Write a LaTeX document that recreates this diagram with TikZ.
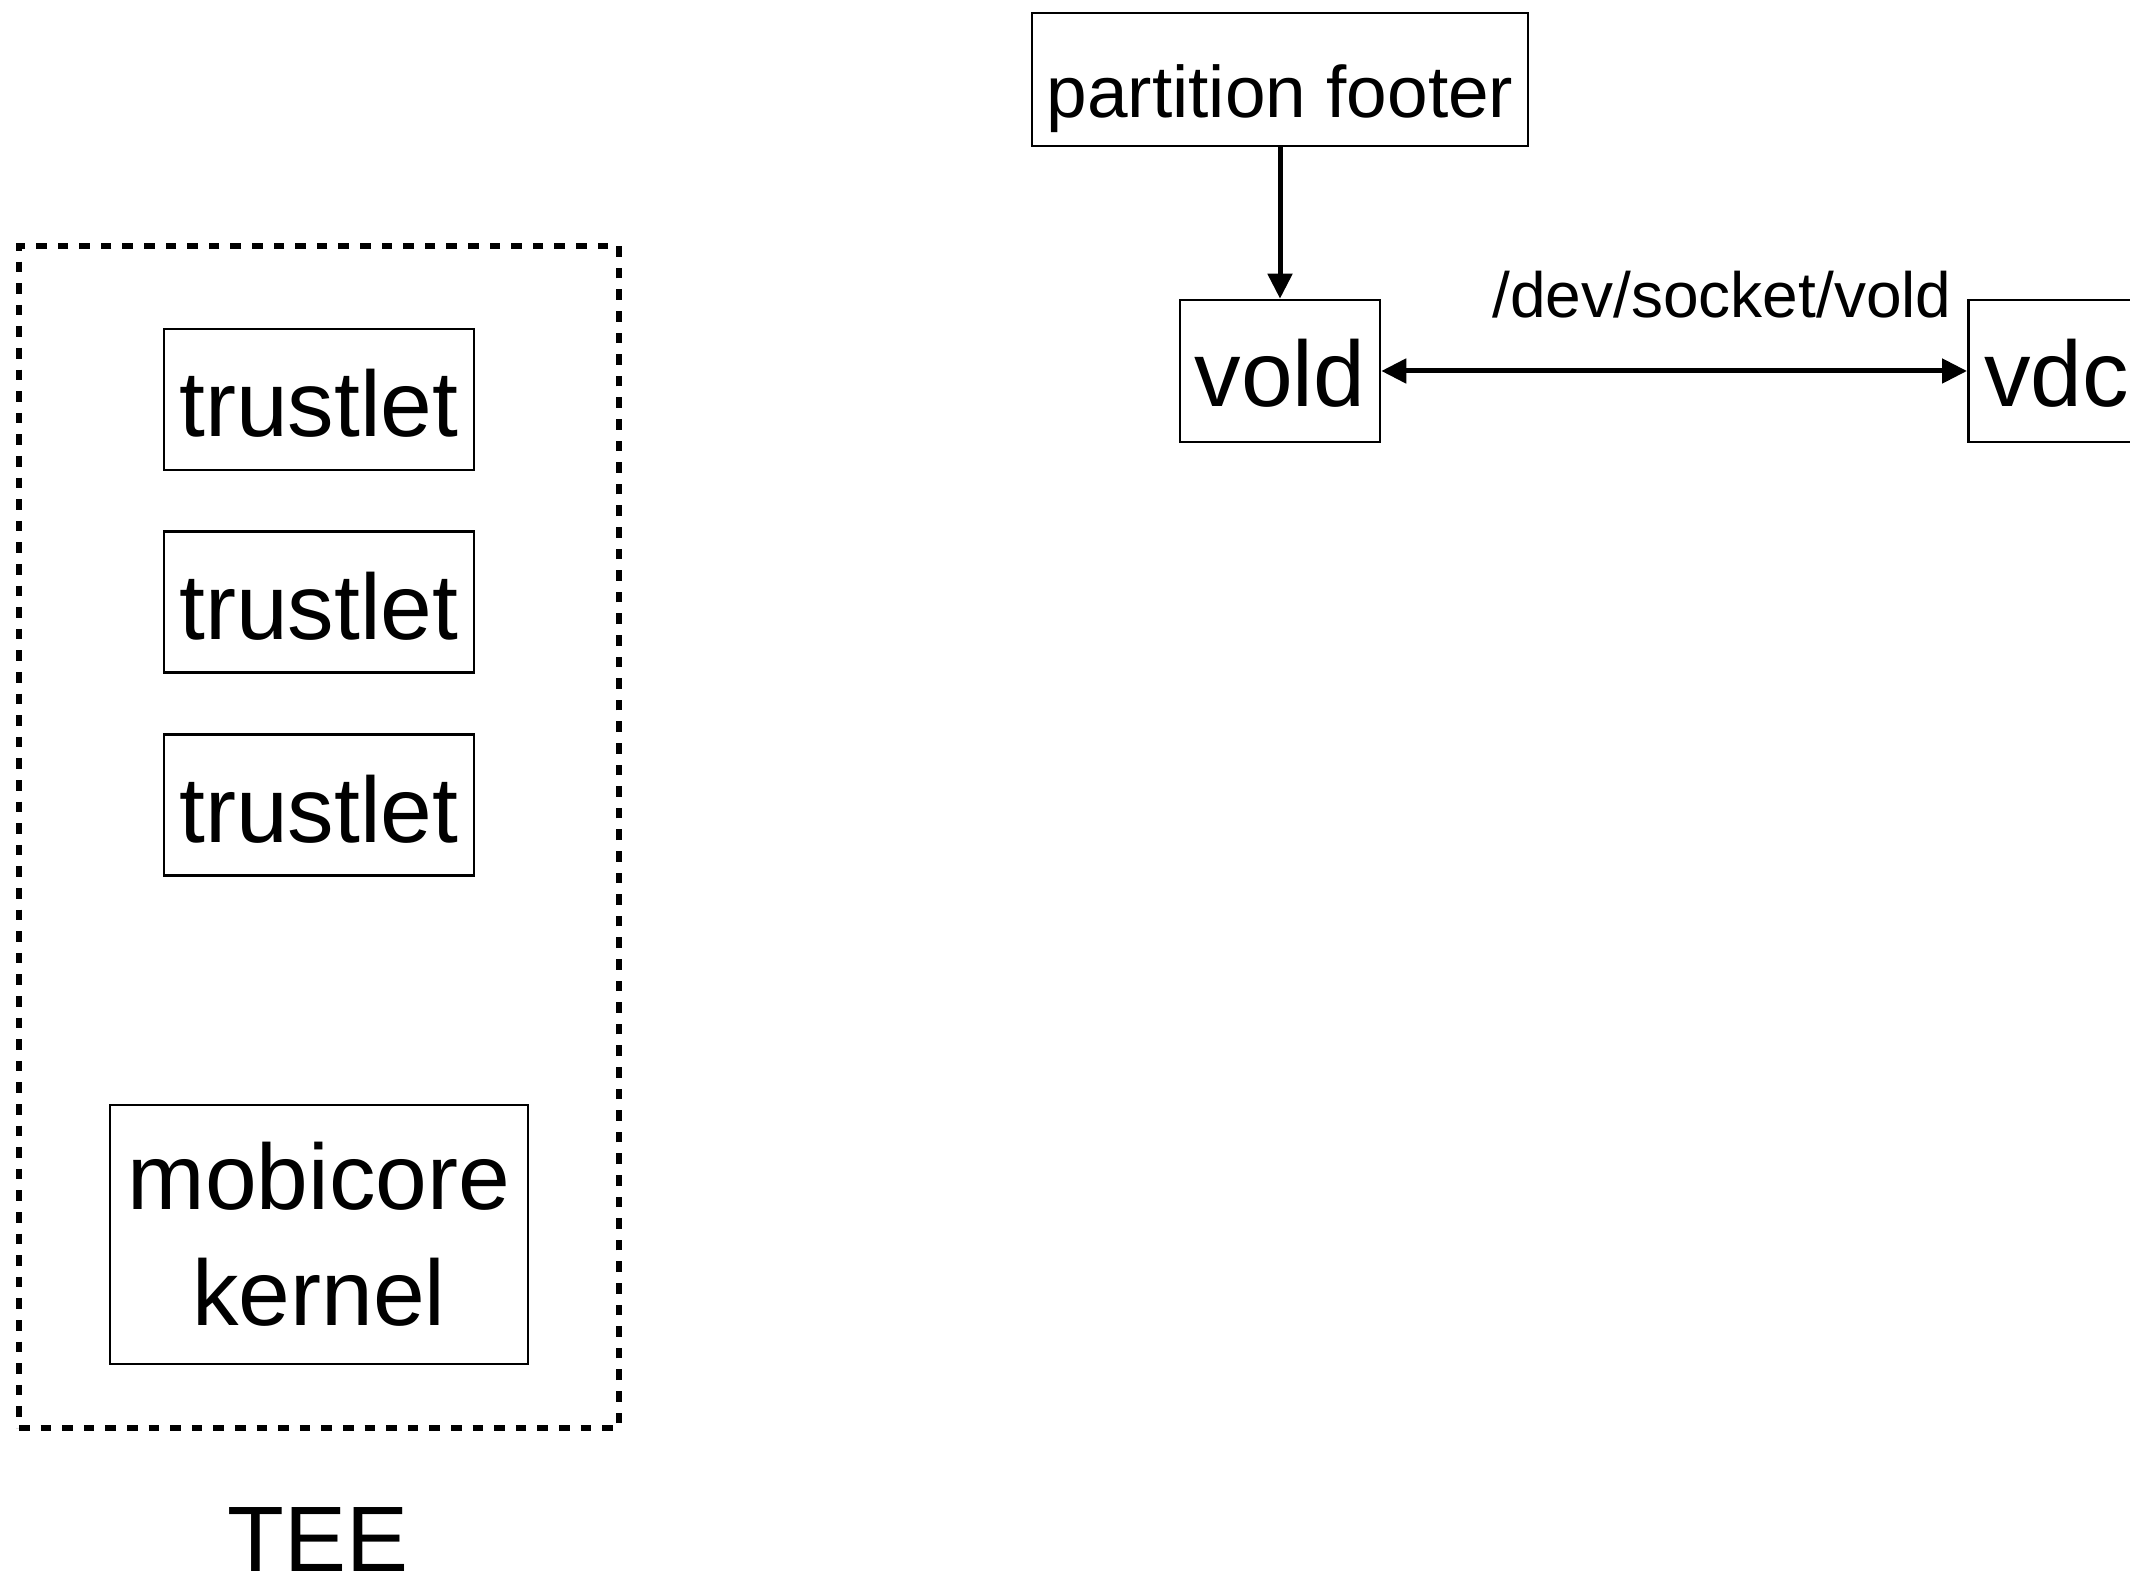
\documentclass[tikz,border=0pt]{standalone}
\usepackage{fontspec}
\setmainfont{Liberation Sans}
\usetikzlibrary{arrows.meta}

\tikzset{
  box/.style={draw, line width=1.3pt, inner sep=0pt, text depth=0pt},
  bigtext/.style={font=\fontsize{46.5}{58}\selectfont},
  tip/.style={-{Triangle[length=12.5pt,width=12pt]}},
  bothtips/.style={{Triangle[length=12.5pt,width=12pt]}-{Triangle[length=12.5pt,width=12pt]}},
  link/.style={line width=2.5pt},
  enclave/.style={draw, dash pattern=on 5.3pt off 5.5pt, line width=2.6pt,
    inner sep=0pt, minimum width=300pt, minimum height=591pt},
}

\begin{document}
\begin{tikzpicture}[x=0.5pt, y=-0.5pt]
  \useasboundingbox (0,0) rectangle (2130,1577);
  \clip (0,0) rectangle (2130,1577);

  % secure world: trusted execution environment
  \node[enclave] (tee) at (319,837) {};
  \node[box, bigtext, minimum width=155pt, minimum height=70.5pt, text height=37.5pt]
    (t1) at (319,399.5) {trustlet};
  \node[box, bigtext, minimum width=155pt, minimum height=70.5pt, text height=37.5pt]
    (t2) at (319,602) {trustlet};
  \node[box, bigtext, minimum width=155pt, minimum height=70.5pt, text height=37.5pt]
    (t3) at (319,805) {trustlet};
  \node[draw, line width=1.3pt, inner sep=0pt, bigtext, align=center,
    minimum width=209pt, minimum height=129.5pt]
    (mc) at (319,1234.5) {mobicore\\kernel};
  \node[bigtext, anchor=base, inner sep=0pt, text depth=0pt] (teelabel)
    at (318,1571) {TEE};

  % normal world: vold and its client
  \node[box, font=\fontsize{36.5}{44}\selectfont, minimum width=248pt,
    minimum height=66.5pt, text height=38.5pt] (pf) at (1280,79.5) {partition footer};
  \node[box, bigtext, minimum width=100pt, minimum height=71pt, text height=36pt]
    (vold) at (1280,371) {vold};
  \node[box, bigtext, anchor=west, minimum height=71pt, text height=36pt,
    inner xsep=8pt] (vdc) at (1967,371) {vdc};
  \node[font=\fontsize{32}{38}\selectfont, anchor=base, inner sep=0pt]
    (sock) at (1722,318) {/dev/socket/vold};

  \draw[link, tip] (pf.south) -- (vold.north);
  \draw[link, bothtips] (vold.east) -- (vdc.west);
\end{tikzpicture}
\end{document}
